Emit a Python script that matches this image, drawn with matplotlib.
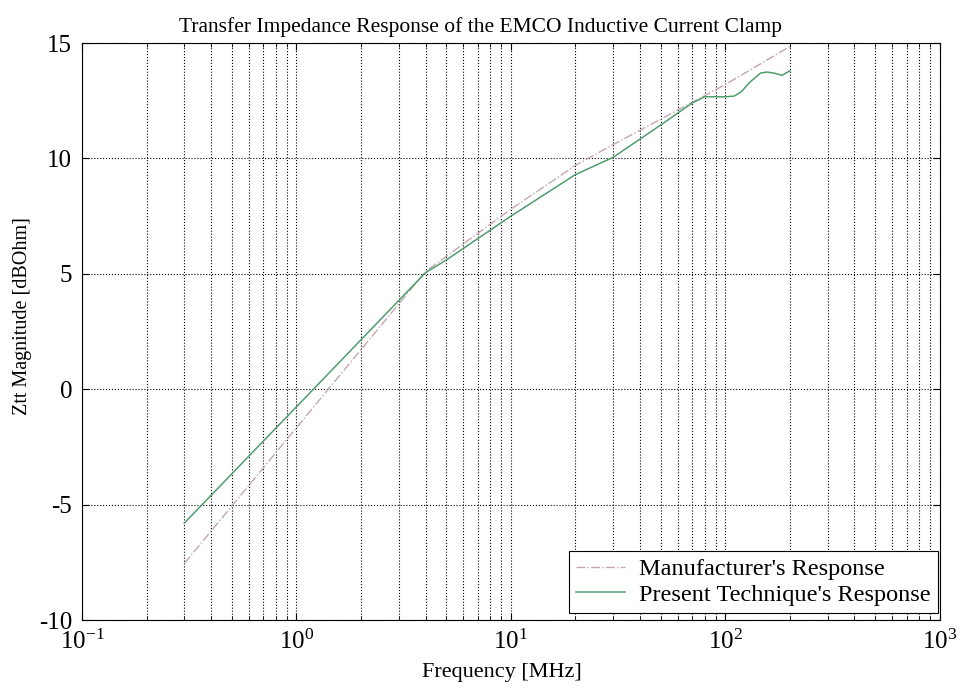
"""
Transfer impedance of the EMCO inductive current clamp:
manufacturer's curve against the present technique.
"""
import matplotlib
matplotlib.use("Agg")
import matplotlib.pyplot as plt
import numpy as np
from matplotlib.ticker import LogLocator, FixedLocator

plt.rcParams["font.family"] = ["Liberation Serif", "DejaVu Serif"]
plt.rcParams["mathtext.fontset"] = "custom"
plt.rcParams["mathtext.rm"] = "Liberation Serif"
plt.rcParams["mathtext.it"] = "Liberation Serif:italic"
plt.rcParams["axes.unicode_minus"] = False

# Manufacturer's response
manu_freq = [0.3, 4, 10, 20, 30, 100, 200]
manu_zt = [-7.55, 5.1, 7.8, 9.7, 10.6, 13.2, 14.85]

# Present technique's response
meas_freq = [0.3, 1.2, 4, 5, 10, 20, 30, 50, 70, 80, 100, 110, 119,
             130, 146, 156, 168, 184, 200]
meas_zt = [-5.8, 0.0, 5.05, 5.6, 7.5, 9.3, 10.05, 11.45, 12.4, 12.67,
           12.67, 12.7, 12.9, 13.3, 13.7, 13.74, 13.7, 13.6, 13.8]

y_ticks = [-10, -5, 0, 5, 10, 15]

fig = plt.figure(figsize=(9.6, 6.88), dpi=100)
ax = fig.add_axes([0.0854, 0.0988, 0.8936, 0.8387])

ax.semilogx(manu_freq, manu_zt, linestyle="-.", color="#c4a6ae",
            linewidth=1.0, label="Manufacturer's Response")
ax.semilogx(meas_freq, meas_zt, linestyle="-", color="#4f9d6c",
            linewidth=1.1, label="Present Technique's Response")

ax.set_xlim(0.1, 1000)
ax.set_ylim(-10, 15)
ax.yaxis.set_major_locator(FixedLocator(y_ticks))
ax.xaxis.set_major_locator(LogLocator(base=10, numticks=10))
ax.xaxis.set_minor_locator(LogLocator(base=10, subs=np.arange(2, 10), numticks=10))

ax.grid(True, which="major", linestyle=":", color="black", linewidth=0.8)
ax.grid(True, which="minor", axis="x", linestyle=":", color="black", linewidth=0.8)
ax.tick_params(which="both", direction="in", top=True, right=True)
ax.tick_params(which="major", length=5, labelsize=18, pad=7)
ax.tick_params(which="minor", length=3)
for spine in ax.spines.values():
    spine.set_linewidth(0.8)

# title sits centred on the figure rather than the axes
ax.set_title("Transfer Impedance Response of the EMCO Inductive Current Clamp",
             fontsize=15.5, pad=8, x=0.464)
ax.set_xlabel("Frequency [MHz]", fontsize=16, labelpad=0)
ax.xaxis.set_label_coords(0.49, -0.075)
ax.set_ylabel("Ztt Magnitude [dBOhm]", fontsize=14.5, labelpad=6)
ax.yaxis.set_label_coords(-0.058, 0.527)

leg = ax.legend(loc="lower right", bbox_to_anchor=(0.998, 0.012),
                fontsize=17.5, fancybox=False, framealpha=1,
                edgecolor="black", borderaxespad=0.0, handlelength=2.0,
                handletextpad=0.6, labelspacing=0.15, borderpad=0.3)
leg.get_frame().set_linewidth(0.8)

fig.savefig("out.png", dpi=100)
